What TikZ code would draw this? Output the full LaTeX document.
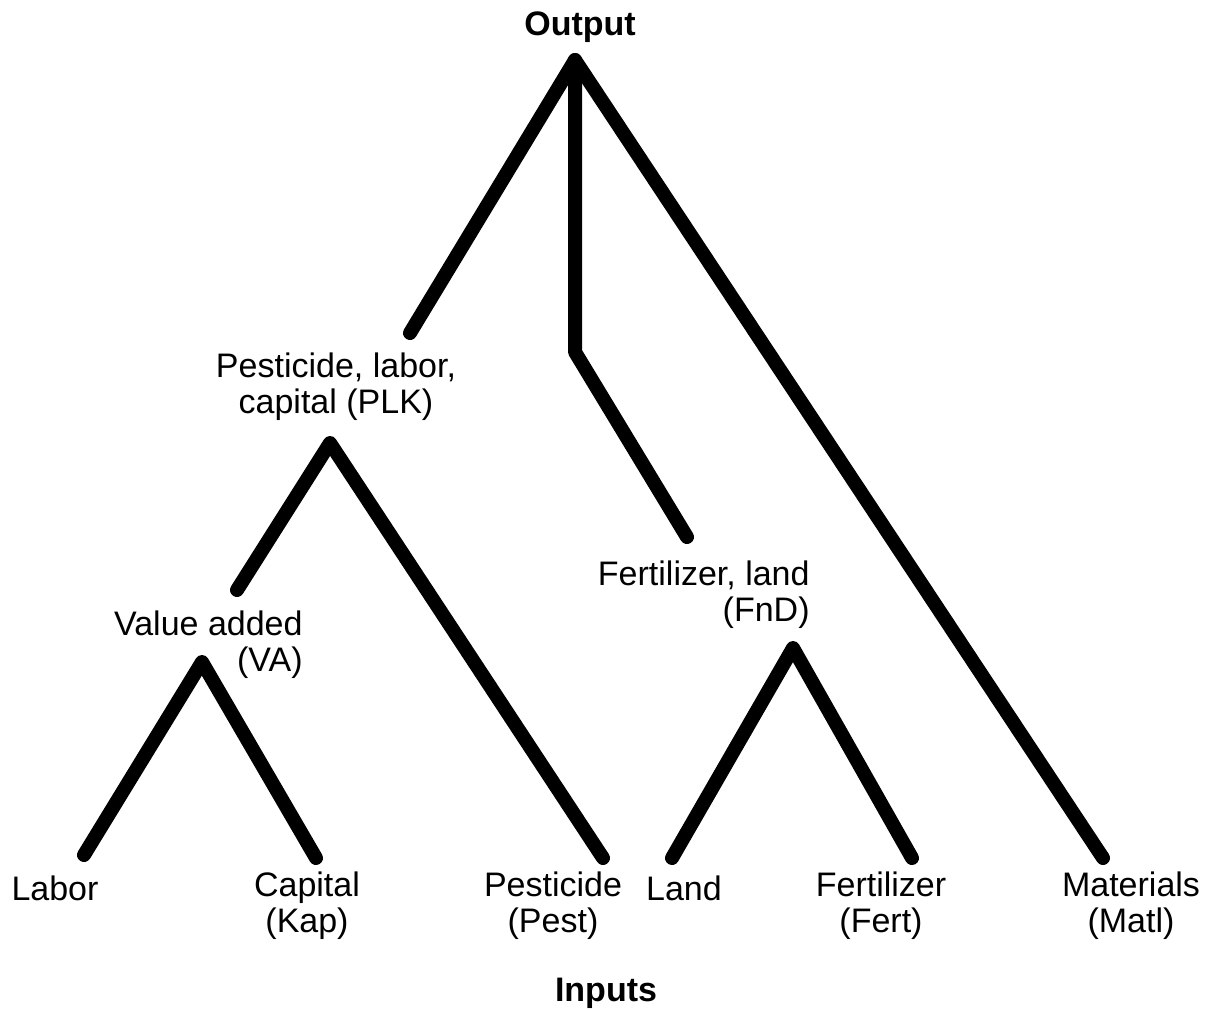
\documentclass[tikz,border=0pt]{standalone}
\usepackage{fontspec}
\setmainfont{Liberation Sans}
\usetikzlibrary{positioning}

\begin{document}
\begin{tikzpicture}[x=0.5pt, y=-0.5pt,
		t/.style = {font=\fontsize{17}{18}\selectfont, inner sep=0pt},
		h/.style = {inner sep=0pt, font=\fontsize{17}{18}\selectfont\bfseries},
		b/.style = {line width=7pt, line cap=round, line join=round}
		]
		\useasboundingbox (0,0) rectangle (1210,1011);
		
		%Nodes
		\node[h]	(out)	at	(580, 27)	{Output};
		\node[t, align=center]	(plk)	at	(336, 387)	{Pesticide, labor,\\capital (PLK)};
		\node[t, align=right, anchor=east]	(vadd)	at	(303, 645)	{Value added\\(VA)};
		\node[t, align=right, anchor=east]	(fnd)	at	(810, 595)	{Fertilizer, land\\(FnD)};
		\node[t]	(lab)	at	(55, 888)	{Labor};
		\node[t, align=center]	(kap)	at	(307, 906)	{Capital\\(Kap)};
		\node[t, align=center]	(pest)	at	(553, 906)	{Pesticide\\(Pest)};
		\node[t]	(land)	at	(684, 888)	{Land};
		\node[t, align=center]	(fert)	at	(881, 906)	{Fertilizer\\(Fert)};
		\node[t, align=center]	(matl)	at	(1131, 906)	{Materials\\(Matl)};
		\node[h]	(inp)	at	(606, 993)	{Inputs};
		
		%Branch points
		\coordinate	(o)		at	(575, 60);
		\coordinate	(oa)	at	(410, 333);
		\coordinate	(ob)	at	(575, 352);
		\coordinate	(oc)	at	(687, 537);
		\coordinate	(od)	at	(1103, 858);
		\coordinate	(p)		at	(330, 443);
		\coordinate	(pa)	at	(237, 590);
		\coordinate	(pb)	at	(603, 858);
		\coordinate	(v)		at	(202, 662);
		\coordinate	(va)	at	(84, 855);
		\coordinate	(vb)	at	(316, 858);
		\coordinate	(f)		at	(793, 648);
		\coordinate	(fa)	at	(672, 858);
		\coordinate	(fb)	at	(912, 858);
		
		%Lines
		\draw[b]	(oa)	--	(o)	--	(od);
		\draw[b]	(o)		--	(ob)	--	(oc);
		\draw[b]	(pa)	--	(p)	--	(pb);
		\draw[b]	(va)	--	(v)	--	(vb);
		\draw[b]	(fa)	--	(f)	--	(fb);
	\end{tikzpicture}
\end{document}
